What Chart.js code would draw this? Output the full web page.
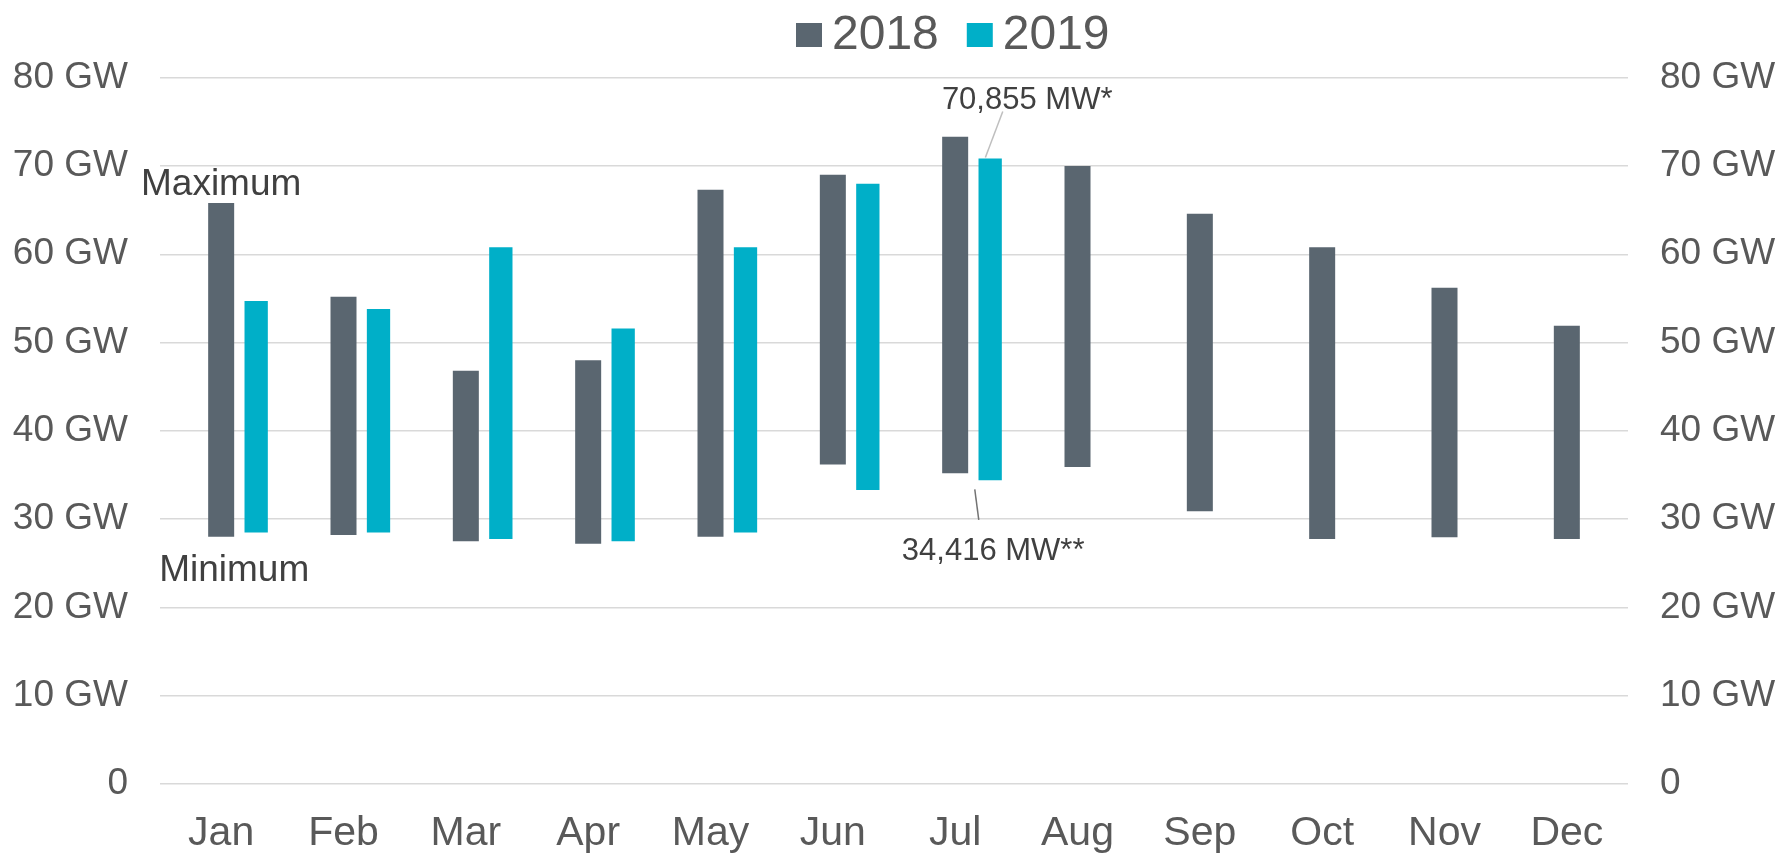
<!DOCTYPE html>
<html>
<head>
<meta charset="utf-8">
<script src="https://cdn.jsdelivr.net/npm/chart.js@4.4.1/dist/chart.umd.min.js"></script>
<style>
  html, body { margin: 0; padding: 0; background: #ffffff; }
  #wrap { width: 1779px; height: 856px; }
</style>
</head>
<body>
<div id="wrap"><canvas id="c" width="1779" height="856"></canvas></div>
<script>
// ---- data ----
const months = ['Jan','Feb','Mar','Apr','May','Jun','Jul','Aug','Sep','Oct','Nov','Dec'];
const yTickLabels = ['0','10 GW','20 GW','30 GW','40 GW','50 GW','60 GW','70 GW','80 GW'];
const seriesNames = ['2018','2019'];
const max2018 = [65.8, 55.2, 46.8, 48.0, 67.3, 69.0, 73.3, 70.0, 64.6, 60.8, 56.2, 51.9];
const min2018 = [28.0, 28.2, 27.5, 27.2, 28.0, 36.2, 35.2, 35.9, 30.9, 27.75, 27.95, 27.75];
const max2019 = [54.7, 53.8, 60.8, 51.6, 60.8, 68.0, 70.855];
const min2019 = [28.5, 28.5, 27.75, 27.5, 28.5, 33.3, 34.416];
const peakLabel = '70,855 MW*';
const lowLabel = '34,416 MW**';

const FONT = "'Liberation Sans', Arial, Helvetica, sans-serif";
const COL2018 = '#5a6670';
const COL2019 = '#00afc8';
const TXT = '#595959';
const DARK = '#404040';

const range = (mins, maxs) => months.map((m, i) =>
  (i < maxs.length && maxs[i] != null) ? [mins[i], maxs[i]] : null);

// custom legend (square, tight gap like the original)
const legendPlugin = {
  id: 'customLegend',
  afterDraw(chart) {
    const ctx = chart.ctx;
    ctx.save();
    ctx.font = '48px ' + FONT;
    ctx.textBaseline = 'alphabetic';
    ctx.textAlign = 'left';
    let x = 796;
    chart.data.datasets.forEach(ds => {
      if (!ds.label) return;
      ctx.fillStyle = ds.backgroundColor;
      ctx.fillRect(x, 23, 26, 24);
      ctx.fillStyle = TXT;
      ctx.fillText(ds.label, x + 36, 49);
      x += 36 + ctx.measureText(ds.label).width + 28;
    });
    ctx.restore();
  }
};

// annotations: Maximum / Minimum and the 2019 record callouts
const notePlugin = {
  id: 'notes',
  afterDatasetsDraw(chart) {
    const ctx = chart.ctx;
    const xs = chart.scales.x, ys = chart.scales.y;
    ctx.save();
    ctx.fillStyle = DARK;
    ctx.textBaseline = 'alphabetic';
    ctx.textAlign = 'center';
    ctx.font = '37px ' + FONT;
    const x0 = xs.getPixelForValue(0);
    ctx.fillText('Maximum', x0, ys.getPixelForValue(max2018[0]) - 8);
    ctx.fillText('Minimum', x0 + 13, ys.getPixelForValue(min2018[0]) + 44);

    const bar = chart.getDatasetMeta(2).data[6];
    if (bar) {
      const top = bar.y, base = bar.base;
      ctx.font = '31px ' + FONT;
      ctx.fillText(peakLabel, bar.x + 37, top - 49);
      ctx.fillText(lowLabel, bar.x + 3, base + 80);
      ctx.lineWidth = 1.5;
      ctx.strokeStyle = '#bfbfbf';
      ctx.beginPath();
      ctx.moveTo(bar.x + 12.6, top - 47);
      ctx.lineTo(bar.x - 4.8, top - 1);
      ctx.stroke();
      ctx.strokeStyle = '#737373';
      ctx.beginPath();
      ctx.moveTo(bar.x - 15.4, base + 9.3);
      ctx.lineTo(bar.x - 11.4, base + 39.8);
      ctx.stroke();
    }
    ctx.restore();
  }
};

const yTicks = (side) => ({
  min: 0, max: 80,
  ticks: {
    stepSize: 10,
    padding: 32,
    color: TXT,
    font: { family: FONT, size: 37 },
    callback: (v) => yTickLabels[Math.round(v / 10)]
  }
});

new Chart(document.getElementById('c'), {
  type: 'bar',
  data: {
    labels: months,
    datasets: [
      { label: '', data: months.map(() => null), backgroundColor: 'rgba(0,0,0,0)', barPercentage: 0.7 },
      { label: seriesNames[0], data: range(min2018, max2018), backgroundColor: COL2018,
        barPercentage: 0.743, borderWidth: 0 },
      { label: seriesNames[1], data: range(min2019, max2019), backgroundColor: COL2019,
        barPercentage: 0.666, borderWidth: 0 }
    ]
  },
  options: {
    responsive: false,
    animation: false,
    devicePixelRatio: 1,
    layout: { padding: { top: 77.7, bottom: 0, left: 0, right: 0 } },
    datasets: { bar: { categoryPercentage: 0.8584 } },
    plugins: {
      legend: { display: false },
      tooltip: { enabled: false }
    },
    scales: {
      x: {
        type: 'category',
        grid: { display: false, drawTicks: false },
        border: { display: false },
        ticks: { color: TXT, font: { family: FONT, size: 41 }, padding: 25, maxRotation: 0, autoSkip: false },
        afterFit: (s) => { s.height = 72; }
      },
      y: Object.assign(yTicks('left'), {
        position: 'left',
        grid: { color: '#d9d9d9', lineWidth: 1.5, drawTicks: false },
        border: { display: false },
        afterFit: (s) => { s.width = 160; }
      }),
      y2: Object.assign(yTicks('right'), {
        position: 'right',
        grid: { display: false, drawTicks: false },
        border: { display: false },
        afterFit: (s) => { s.width = 151; }
      })
    }
  },
  plugins: [legendPlugin, notePlugin]
});
</script>
</body>
</html>
